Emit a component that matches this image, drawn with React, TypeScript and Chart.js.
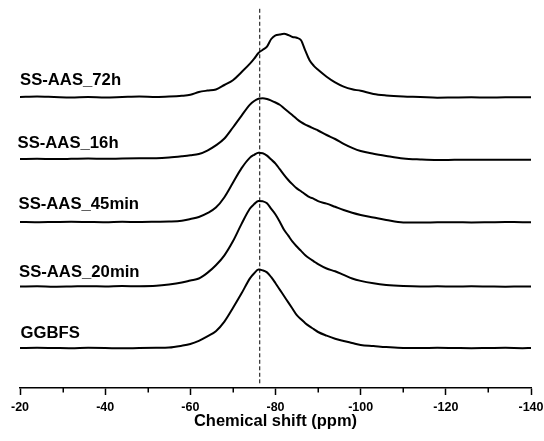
import { useEffect, useRef } from "react";
import { Chart, registerables } from "chart.js";

Chart.register(...registerables);

// Chemical shift sampling points (ppm), shared by every spectrum
const shiftPpm = [
  -20, -24, -28, -32, -36, -40, -44, -48, -52,
  -55, -58, -60,
  -62, -64, -66, -68, -70, -72, -74,
  -75, -76, -77, -78, -79, -80, -81, -82, -83, -84, -85, -86, -87, -88, -89, -90,
  -92, -94, -96, -98, -100,
  -103, -106, -110, -114, -118, -122, -126, -130, -134, -138, -140,
];

// Normalised 29Si intensities for each sample
const ggbfs = [
  0, 0.003, 0, -0.003, 0.002, 0, -0.004, 0, 0.003,
  0.006, 0.028, 0.05,
  0.09, 0.145, 0.21, 0.33, 0.5, 0.68, 0.87,
  0.935, 0.98, 0.97, 0.945, 0.885, 0.81, 0.73, 0.65, 0.57, 0.49, 0.41, 0.36, 0.31, 0.27, 0.235, 0.2,
  0.154, 0.115, 0.0875, 0.0625, 0.0375,
  0.025, 0.012, 0.0, 0.0, 0.002, 0.0, -0.002, 0.0, 0.002, -0.002, 0.0,
];

const aas20min = [
  0, 0.003, -0.003, 0, 0.004, 0, 0.005, 0.003, 0.008,
  0.025, 0.05, 0.075,
  0.1, 0.17, 0.265, 0.39, 0.565, 0.78, 0.975,
  1.03, 1.07, 1.065, 1.04, 0.97, 0.9, 0.81, 0.71, 0.635, 0.56, 0.5, 0.445, 0.39, 0.35, 0.315, 0.28,
  0.225, 0.19, 0.145, 0.1, 0.07,
  0.04, 0.02, 0.006, 0.0, 0.003, 0.0, 0.002, 0.0, -0.002, 0.0, 0.0,
];

const aas45min = [
  0, -0.003, 0, 0.003, 0, -0.003, 0.003, 0, 0.003,
  0.006, 0.016, 0.0375,
  0.0625, 0.11, 0.18, 0.31, 0.49, 0.67, 0.805,
  0.84, 0.865, 0.86, 0.83, 0.78, 0.73, 0.66, 0.59, 0.525, 0.47, 0.42, 0.385, 0.345, 0.31, 0.29, 0.26,
  0.23, 0.19, 0.15, 0.115, 0.0875,
  0.056, 0.025, -0.006, -0.006, -0.004, -0.003, -0.005, -0.003, 0.0, -0.003, -0.003,
];

const aas16h = [
  0, 0.003, 0, 0.002, 0.005, 0.003, 0.006, 0.008, 0.01,
  0.019, 0.034, 0.046,
  0.0625, 0.106, 0.17, 0.256, 0.394, 0.54, 0.68,
  0.725, 0.753, 0.76, 0.75, 0.73, 0.706, 0.678, 0.634, 0.59, 0.546, 0.5, 0.46, 0.43, 0.406, 0.38, 0.356,
  0.3, 0.25, 0.19, 0.14, 0.1,
  0.065, 0.0375, 0.006, -0.006, -0.0125, -0.01, -0.008, -0.008, -0.008, -0.008, -0.008,
];

const aas72h = [
  0, 0.005, 0, -0.005, 0, -0.005, 0, 0.005, 0,
  0.005, 0.015, 0.028,
  0.062, 0.08, 0.094, 0.15, 0.21, 0.31, 0.417,
  0.48, 0.55, 0.59, 0.63, 0.725, 0.77, 0.78, 0.79, 0.775, 0.75, 0.74, 0.71, 0.58, 0.46, 0.39, 0.34,
  0.254, 0.183, 0.13, 0.096, 0.078,
  0.0375, 0.019, 0.006, 0.0, -0.009, -0.006, -0.004, -0.006, -0.004, -0.004, -0.004,
];

// Bottom to top stacking order
const sampleNames = ["GGBFS", "SS-AAS_20min", "SS-AAS_45min", "SS-AAS_16h", "SS-AAS_72h"];
const sampleSeries = [ggbfs, aas20min, aas45min, aas16h, aas72h];
const stackOffsets = [0, 0.76875, 1.575, 2.3625, 3.1375];

// Reference position of the Q0 / Q1 band (dashed marker)
const referenceShift = -76.3;
const referenceSpan = [-0.45, 4.24];

const majorStep = 20;
const minorTickValues = [-30, -50, -70, -90, -110, -130];

// Label placement (px) relative to each spectrum baseline
const labelLeft = [20.5, 19, 18.5, 17.5, 20];
const labelLift = [9.7, 9.8, 12.7, 11.3, 12];

const FONT = '"Liberation Sans", Arial, Helvetica, sans-serif';

const overlayPlugin = {
  id: "nmrOverlay",
  afterDatasetsDraw(chart: any) {
    const { ctx, chartArea } = chart;
    const x = chart.scales.x;
    const y = chart.scales.y;
    ctx.save();

    // dashed reference line
    const rx = x.getPixelForValue(referenceShift);
    ctx.strokeStyle = "#000";
    ctx.lineWidth = 1;
    ctx.setLineDash([4, 2.5]);
    ctx.beginPath();
    ctx.moveTo(rx, y.getPixelForValue(referenceSpan[1]));
    ctx.lineTo(rx, y.getPixelForValue(referenceSpan[0]));
    ctx.stroke();
    ctx.setLineDash([]);

    // minor ticks on the shift axis
    ctx.lineWidth = 1.5;
    ctx.beginPath();
    for (const v of minorTickValues) {
      const px = Math.round(x.getPixelForValue(v)) + 0.25;
      ctx.moveTo(px, chartArea.bottom);
      ctx.lineTo(px, chartArea.bottom + 4.5);
    }
    ctx.stroke();

    // sample labels
    ctx.fillStyle = "#000";
    ctx.font = `bold 16.7px ${FONT}`;
    ctx.textAlign = "left";
    ctx.textBaseline = "alphabetic";
    sampleNames.forEach((name, i) => {
      const by = y.getPixelForValue(stackOffsets[i]);
      ctx.fillText(name, labelLeft[i], by - labelLift[i]);
    });

    ctx.restore();
  },
};

export default function App() {
  const canvasRef = useRef<HTMLCanvasElement | null>(null);

  useEffect(() => {
    const canvas = canvasRef.current;
    if (!canvas) return;

    const datasets = sampleSeries.map((series, i) => ({
      label: sampleNames[i],
      data: shiftPpm.map((ppm, k) => ({ x: ppm, y: series[k] + stackOffsets[i] })),
      borderColor: "#000",
      borderWidth: 2,
      pointRadius: 0,
      fill: false,
      cubicInterpolationMode: "monotone" as const,
    }));

    const chart = new Chart(canvas, {
      type: "line",
      data: { datasets },
      options: {
        animation: false,
        responsive: false,
        devicePixelRatio: 1,
        layout: { padding: { left: 20, right: 13, top: 0, bottom: 0 } },
        plugins: {
          legend: { display: false },
          tooltip: { enabled: false },
        },
        scales: {
          x: {
            type: "linear",
            min: -140,
            max: -20,
            reverse: true,
            border: { display: true, color: "#000", width: 1.5 },
            grid: {
              display: true,
              drawOnChartArea: false,
              drawTicks: true,
              tickLength: 7,
              tickWidth: 1.5,
              tickColor: "#000",
            },
            ticks: {
              stepSize: majorStep,
              autoSkip: false,
              maxRotation: 0,
              padding: 5.5,
              color: "#000",
              font: { family: FONT, size: 12.5, weight: "bold" },
            },
            title: {
              display: true,
              text: "Chemical shift (ppm)",
              color: "#000",
              font: { family: FONT, size: 16.5, weight: "bold" },
              padding: { top: 0, bottom: 10 },
            },
            afterFit: (scale: any) => {
              scale.height = 53;
              scale.paddingLeft = 0;
              scale.paddingRight = 0;
            },
          },
          y: {
            type: "linear",
            display: false,
            min: -0.5,
            max: 4.35,
          },
        },
      },
      plugins: [overlayPlugin],
    });

    return () => chart.destroy();
  }, []);

  return (
    <div style={{ position: "fixed", left: 0, top: 0, width: 544, height: 441, background: "#fff" }}>
      <canvas ref={canvasRef} width={544} height={441} style={{ display: "block" }} />
    </div>
  );
}
